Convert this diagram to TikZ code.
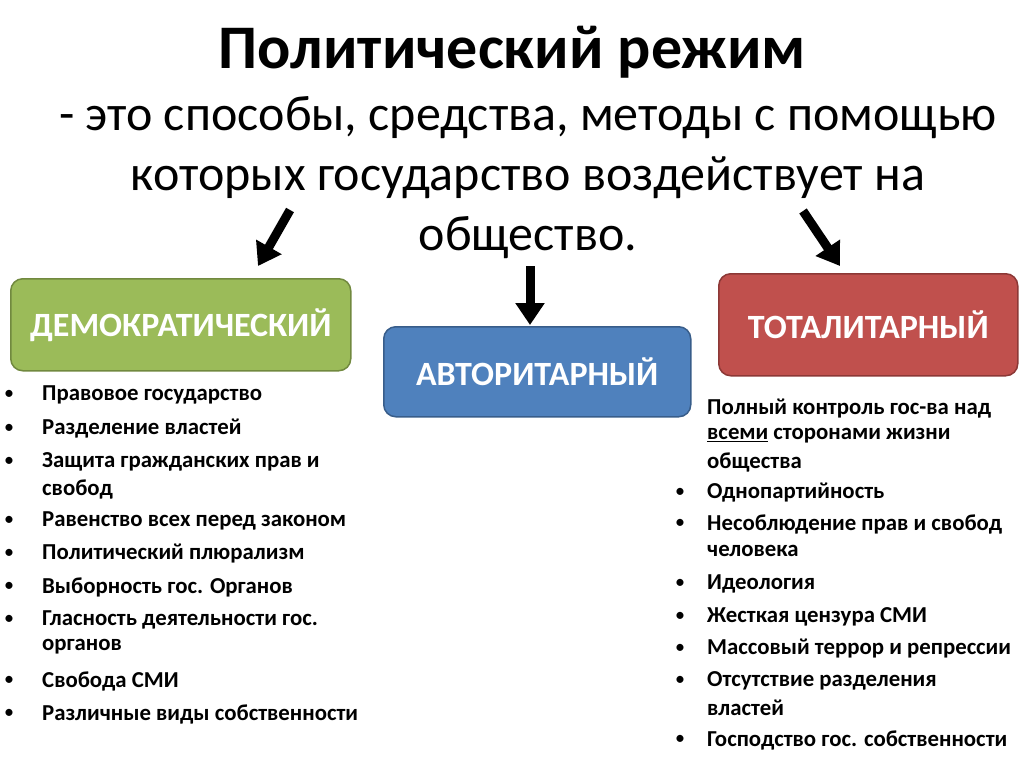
\documentclass[tikz,border=0pt]{standalone}
\usepackage{fontspec}
\setmainfont{Carlito}
\usetikzlibrary{arrows.meta}
\begin{document}
\begin{tikzpicture}[x=1pt,y=-1pt,
  box/.style={draw,line width=1.5pt,rounded corners=12pt,anchor=north west,inner sep=0pt},
  lbl/.style={text=white,font=\fontsize{34}{36}\selectfont\bfseries},
  arr/.style={line width=9pt,-{Triangle[length=22pt,width=28pt]}},
  it/.style={anchor=west,font=\fontsize{22.8}{26}\selectfont\bfseries,inner sep=0pt},
  bl/.style={anchor=center,font=\fontsize{20}{22}\selectfont,inner sep=0pt}]
\useasboundingbox (0,0) rectangle (1024,767);
\clip (0,0) rectangle (1024,767);
\node[font=\fontsize{62}{64}\selectfont\bfseries] (t) at (512,52) {Политический режим};
\node[font=\fontsize{50}{60}\selectfont,align=center] (s) at (528,178) {- это способы, средства, методы с помощью\\которых государство воздействует на\\общество.};
\node[box,fill={rgb,255:red,155;green,187;blue,89},draw={rgb,255:red,113;green,137;blue,63},minimum width=340pt,minimum height=92pt] (d) at (10,278) {};
\node[lbl] at (d.center) {ДЕМОКРАТИЧЕСКИЙ};
\node[box,fill={rgb,255:red,79;green,129;blue,189},draw={rgb,255:red,56;green,93;blue,138},minimum width=307pt,minimum height=90pt] (a) at (383,326) {};
\node[lbl] at (a.center) {АВТОРИТАРНЫЙ};
\node[box,fill={rgb,255:red,192;green,80;blue,77},draw={rgb,255:red,140;green,56;blue,54},minimum width=299pt,minimum height=102pt] (tt) at (718,273) {};
\node[lbl] at (tt.center) {ТОТАЛИТАРНЫЙ};
\draw[arr] (290,210) -- (258,266);
\draw[arr] (530,266) -- (530,325);
\draw[arr] (803,211) -- (840,266);
\foreach \y/\t in {395/Правовое государство,429/Разделение властей,462/Защита гражданских прав и,489/свобод,521/Равенство всех перед законом,554/Политический плюрализм,587/Выборность гос. Органов,620/Гласность деятельности гос.,647/органов,681/Свобода СМИ,714/Различные виды собственности}
  \node[it] at (42,\y) {\t};
\foreach \y in {395,429,462,521,554,587,620,681,714}
  \node[bl] at (9,\y) {•};
\foreach \y/\t in {409/Полный контроль гос-ва над,436/{\underline{всеми} сторонами жизни},462/общества,493/Однопартийность,524/Несоблюдение прав и свобод,551/человека,584/Идеология,617/Жесткая цензура СМИ,649/Массовый террор и репрессии,681/Отсутствие разделения,708/властей,740/Господство гос. собственности}
  \node[it] at (707,\y) {\t};
\foreach \y in {493,524,584,617,649,681,740}
  \node[bl] at (680,\y) {•};
\end{tikzpicture}
\end{document}
